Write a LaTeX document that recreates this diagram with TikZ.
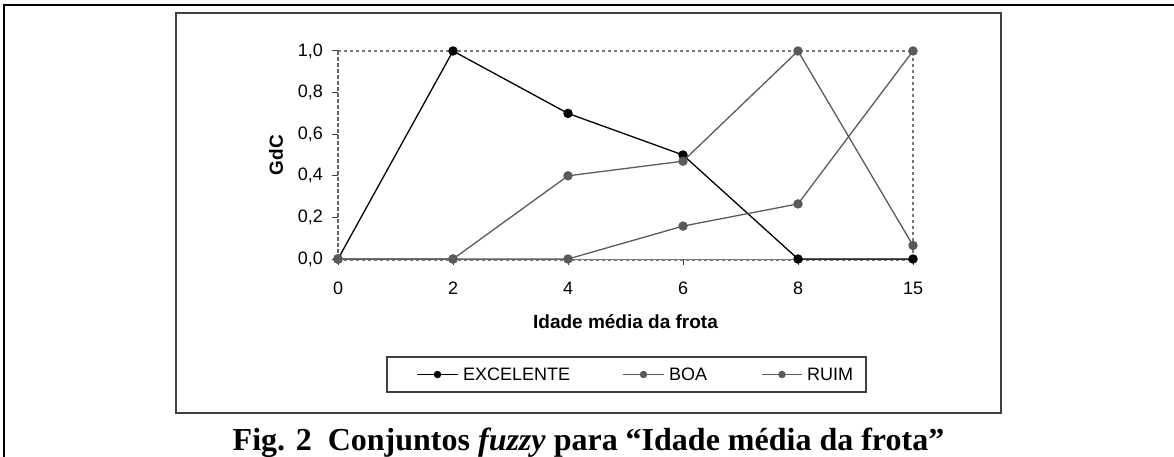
\documentclass[tikz,border=0pt]{standalone}
\usepackage{fontspec}
\setmainfont{Liberation Serif}
\newfontfamily\arialf{Liberation Sans}
\definecolor{seriesgray}{HTML}{5A5A5A}
\definecolor{dashgray}{HTML}{787878}
\definecolor{framegray}{HTML}{404040}
\begin{document}
\begin{tikzpicture}[x=1pt,y=-1pt,
  serA/.style={line width=1.3pt, black},
  serB/.style={line width=1.3pt, seriesgray},
  dotA/.style={circle, fill=black, inner sep=0pt, minimum size=9.5pt},
  dotB/.style={circle, fill=seriesgray, inner sep=0pt, minimum size=9.5pt},
  ldotA/.style={circle, fill=black, inner sep=0pt, minimum size=7.5pt},
  ldotB/.style={circle, fill=seriesgray, inner sep=0pt, minimum size=7.5pt},
  ticklab/.style={inner sep=0pt, font=\arialf\fontsize{18}{18}\selectfont},
  axtitle/.style={inner sep=0pt, font=\arialf\bfseries\fontsize{19}{19}\selectfont},
  legtext/.style={inner sep=0pt, anchor=west, font=\arialf\fontsize{18}{18}\selectfont},
  tickline/.style={line width=1pt, framegray}
]
\useasboundingbox (0,0) rectangle (1174,457);
% outer frame (top and left)
\draw[line width=2.4pt, black] (4,470) -- (4,5) -- (1190,5);
% chart box
\draw[line width=1.5pt, framegray] (176,13) rectangle (1001,413);
% plot area border
\draw[dashgray, line width=1.3pt, dash pattern=on 3pt off 3pt] (338,51) -- (913,51) -- (913,259);
\draw[framegray!80, line width=1.5pt, dash pattern=on 4pt off 2pt] (338,51) -- (338,259);
\draw[dashgray, line width=1.2pt, dash pattern=on 3pt off 3pt] (338,260.5) -- (913,260.5);
\draw[dashgray, line width=1pt] (338,259) -- (913,259);
% y ticks and labels
\foreach \v/\lab in {0/{0,0},1/{0,2},2/{0,4},3/{0,6},4/{0,8},5/{1,0}} {
  \draw[tickline] (332,{259-41.6*\v}) -- (338,{259-41.6*\v});
  \node[ticklab, anchor=east] (yl\v) at (323,{259-41.6*\v}) {\lab};
}
% x ticks and labels
\foreach \i/\lab in {0/0,1/2,2/4,3/6,4/8,5/15} {
  \draw[tickline] ({338+115*\i},259) -- ({338+115*\i},265);
  \node[ticklab] (xl\i) at ({338+115*\i},288) {\lab};
}
% axis titles
\node[axtitle] (xtitle) at (625.5,322) {Idade média da frota};
\node[axtitle, rotate=90] (ytitle) at (276,155) {GdC};
% series coordinates
\coordinate (e0) at (338,259); \coordinate (e1) at (453,51); \coordinate (e2) at (568,113.4);
\coordinate (e3) at (683,155); \coordinate (e4) at (798,259); \coordinate (e5) at (913,259);
\coordinate (b0) at (338,259); \coordinate (b1) at (453,259); \coordinate (b2) at (568,175.8);
\coordinate (b3) at (683,161.2); \coordinate (b4) at (798,51); \coordinate (b5) at (913,245.5);
\coordinate (r0) at (338,259); \coordinate (r1) at (453,259); \coordinate (r2) at (568,259);
\coordinate (r3) at (683,226.1); \coordinate (r4) at (798,203.9); \coordinate (r5) at (913,51);
% EXCELENTE
\draw[serA] (e0) -- (e1) -- (e2) -- (e3) -- (e4) -- (e5);
\foreach \k in {0,...,5} { \node[dotA] at (e\k) {}; }
% BOA
\draw[serB] (b0) -- (b1) -- (b2) -- (b3) -- (b4) -- (b5);
\foreach \k in {0,...,5} { \node[dotB] at (b\k) {}; }
% RUIM
\draw[serB] (r0) -- (r1) -- (r2) -- (r3) -- (r4) -- (r5);
\foreach \k in {0,...,5} { \node[dotB] at (r\k) {}; }
% legend
\draw[framegray, line width=1.2pt] (387,357) rectangle (866,392);
\coordinate (la1) at (417,374.5); \coordinate (la2) at (458,374.5);
\draw[serA] (la1) -- (la2);
\node[ldotA] at (437.5,374.5) {};
\node[legtext] (lta) at (463,374.5) {EXCELENTE};
\coordinate (lb1) at (623,374.5); \coordinate (lb2) at (664,374.5);
\draw[serB] (lb1) -- (lb2);
\node[ldotB] at (643.5,374.5) {};
\node[legtext] (ltb) at (669,374.5) {BOA};
\coordinate (lc1) at (762,374.5); \coordinate (lc2) at (802,374.5);
\draw[serB] (lc1) -- (lc2);
\node[ldotB] at (782,374.5) {};
\node[legtext] (ltc) at (807,374.5) {RUIM};
% caption
\node[anchor=base, inner sep=0pt, font=\bfseries\fontsize{32}{32}\selectfont] (cap) at (588.5,450)
  {Fig. 2~~Conjuntos \textit{fuzzy} para “Idade média da frota”};
\end{tikzpicture}
\end{document}
